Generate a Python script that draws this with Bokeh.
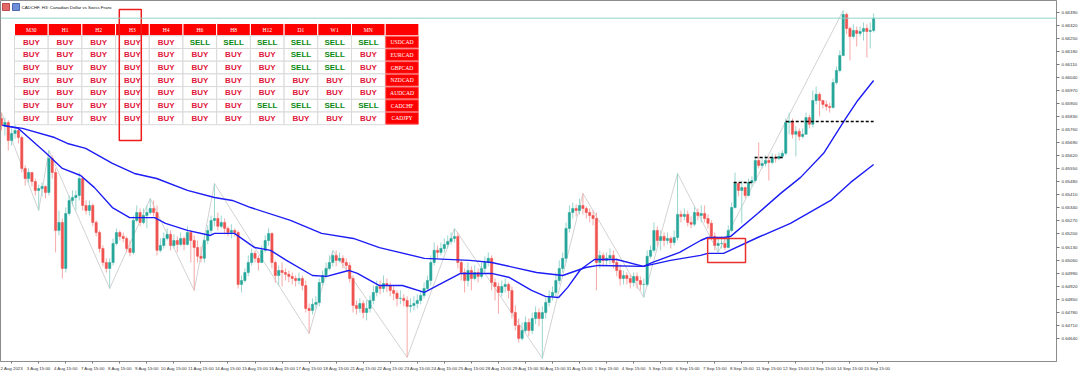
from bokeh.plotting import figure
from bokeh.models import (Range1d, FixedTicker, Span, BoxAnnotation,
                          ColumnDataSource, PrintfTickFormatter)
from bokeh.core.properties import value
from bokeh.embed import file_html
from bokeh.resources import INLINE

# ---------------- data (CADCHF, H3) ----------------
title_text = "CADCHF, H3:  Canadian Dollar vs Swiss Franc"
first_open = 0.65820
closes = [
 0.65783, 0.65799, 0.65702, 0.65740, 0.65756, 0.65718, 0.65552, 0.65498, 0.65530, 0.65482,
 0.65434, 0.65444, 0.65455, 0.65423, 0.65606, 0.65530, 0.65219, 0.65262, 0.65015, 0.65310,
 0.65380, 0.65396, 0.65407, 0.65498, 0.65353, 0.65326, 0.65353, 0.65262, 0.65208, 0.65122,
 0.65047, 0.65015, 0.65047, 0.65149, 0.65208, 0.65187, 0.65176, 0.65122, 0.65101, 0.65273,
 0.65315, 0.65262, 0.65299, 0.65315, 0.65337, 0.65315, 0.65112, 0.65138, 0.65176, 0.65198,
 0.65138, 0.65165, 0.65144, 0.65176, 0.65144, 0.65208, 0.65165, 0.65127, 0.65080, 0.65069,
 0.65165, 0.65219, 0.65273, 0.65283, 0.65241, 0.65262, 0.65230, 0.65208, 0.65219, 0.65208,
 0.64929, 0.64950, 0.64993, 0.65047, 0.65096, 0.65069, 0.65047, 0.65112, 0.65165, 0.65203,
 0.65047, 0.64977, 0.65004, 0.64993, 0.64983, 0.64972, 0.64961, 0.64950, 0.64961, 0.64923,
 0.64800, 0.64789, 0.64822, 0.64832, 0.64939, 0.64977, 0.65015, 0.65047, 0.65085, 0.65058,
 0.65069, 0.65047, 0.65031, 0.64961, 0.64816, 0.64800, 0.64827, 0.64778, 0.64800, 0.64843,
 0.64886, 0.64918, 0.64907, 0.64934, 0.64923, 0.64897, 0.64881, 0.64854, 0.64854, 0.64843,
 0.64811, 0.64816, 0.64827, 0.64843, 0.64870, 0.64907, 0.64950, 0.65047, 0.65112, 0.65101,
 0.65122, 0.65144, 0.65160, 0.65176, 0.65187, 0.65047, 0.64993, 0.64950, 0.65004, 0.64961,
 0.64993, 0.64972, 0.65015, 0.65047, 0.65069, 0.64939, 0.64918, 0.64886, 0.64918, 0.64929,
 0.64897, 0.64778, 0.64709, 0.64639, 0.64682, 0.64725, 0.64682, 0.64746, 0.64778, 0.64746,
 0.64778, 0.64832, 0.64865, 0.64886, 0.64950, 0.65015, 0.65069, 0.65230, 0.65315, 0.65337,
 0.65326, 0.65353, 0.65337, 0.65315, 0.65299, 0.65283, 0.65047, 0.65085, 0.65058, 0.65069,
 0.65085, 0.65047, 0.65004, 0.64961, 0.64977, 0.64961, 0.64939, 0.64972, 0.64950, 0.64929,
 0.64929, 0.65080, 0.65112, 0.65219, 0.65165, 0.65187, 0.65165, 0.65176, 0.65154, 0.65181,
 0.65305, 0.65294, 0.65305, 0.65262, 0.65252, 0.65315, 0.65299, 0.65310, 0.65283, 0.65257,
 0.65187, 0.65138, 0.65149, 0.65149, 0.65127, 0.65219, 0.65342, 0.65471, 0.65434, 0.65449,
 0.65407, 0.65476, 0.65487, 0.65595, 0.65568, 0.65579, 0.65595, 0.65584, 0.65611, 0.65606,
 0.65617, 0.65633, 0.65799, 0.65805, 0.65735, 0.65751, 0.65724, 0.65735, 0.65825, 0.65789,
 0.65917, 0.65950, 0.65917, 0.65896, 0.65885, 0.65879, 0.66013, 0.66078, 0.66159, 0.66379,
 0.66304, 0.66261, 0.66293, 0.66277, 0.66288, 0.66304, 0.66288, 0.66293, 0.66359]
highs = [
 0.65852, 0.65825, 0.65810, 0.65767, 0.65789, 0.65767, 0.65729, 0.65568, 0.65552, 0.65530,
 0.65498, 0.65466, 0.65476, 0.65460, 0.65649, 0.65622, 0.65552, 0.65326, 0.65283, 0.65342,
 0.65407, 0.65434, 0.65434, 0.65530, 0.65514, 0.65380, 0.65380, 0.65364, 0.65273, 0.65219,
 0.65138, 0.65069, 0.65069, 0.65176, 0.65230, 0.65219, 0.65208, 0.65187, 0.65165, 0.65299,
 0.65353, 0.65337, 0.65337, 0.65353, 0.65391, 0.65380, 0.65353, 0.65176, 0.65208, 0.65230,
 0.65219, 0.65198, 0.65187, 0.65208, 0.65187, 0.65241, 0.65219, 0.65192, 0.65165, 0.65133,
 0.65192, 0.65246, 0.65299, 0.65471, 0.65315, 0.65299, 0.65283, 0.65241, 0.65252, 0.65230,
 0.65219, 0.64977, 0.65015, 0.65085, 0.65122, 0.65112, 0.65085, 0.65138, 0.65192, 0.65230,
 0.65208, 0.65058, 0.65031, 0.65047, 0.65015, 0.65004, 0.64993, 0.64977, 0.64993, 0.64977,
 0.64950, 0.64827, 0.64854, 0.64865, 0.64961, 0.65004, 0.65047, 0.65085, 0.65112, 0.65112,
 0.65101, 0.65085, 0.65069, 0.65047, 0.64977, 0.64843, 0.64854, 0.64843, 0.64843, 0.64870,
 0.64923, 0.64950, 0.64950, 0.64977, 0.64961, 0.64939, 0.64918, 0.64897, 0.64897, 0.64876,
 0.64865, 0.64854, 0.64865, 0.64876, 0.64897, 0.64939, 0.64977, 0.65085, 0.65154, 0.65138,
 0.65154, 0.65176, 0.65192, 0.65208, 0.65230, 0.65208, 0.65058, 0.65015, 0.65047, 0.65026,
 0.65031, 0.65015, 0.65047, 0.65080, 0.65101, 0.65085, 0.64961, 0.64939, 0.64950, 0.64961,
 0.64939, 0.64918, 0.64816, 0.64746, 0.64725, 0.64757, 0.64746, 0.64778, 0.64811, 0.64800,
 0.64811, 0.64865, 0.64897, 0.64918, 0.64993, 0.65058, 0.65101, 0.65262, 0.65353, 0.65369,
 0.65359, 0.65391, 0.65418, 0.65348, 0.65337, 0.65326, 0.65315, 0.65112, 0.65101, 0.65101,
 0.65122, 0.65112, 0.65069, 0.65037, 0.65004, 0.64993, 0.64983, 0.64993, 0.64993, 0.64972,
 0.64961, 0.65112, 0.65138, 0.65262, 0.65241, 0.65219, 0.65208, 0.65208, 0.65187, 0.65219,
 0.65525, 0.65326, 0.65337, 0.65326, 0.65294, 0.65348, 0.65337, 0.65353, 0.65353, 0.65305,
 0.65273, 0.65208, 0.65176, 0.65187, 0.65176, 0.65246, 0.65369, 0.65530, 0.65476, 0.65487,
 0.65455, 0.65498, 0.65509, 0.65617, 0.65691, 0.65606, 0.65622, 0.65617, 0.65633, 0.65628,
 0.65638, 0.65649, 0.65820, 0.65852, 0.65820, 0.65778, 0.65767, 0.65767, 0.65852, 0.65841,
 0.65971, 0.65992, 0.65960, 0.65917, 0.65917, 0.65906, 0.66035, 0.66100, 0.66186, 0.66400,
 0.66389, 0.66315, 0.66326, 0.66315, 0.66315, 0.66336, 0.66326, 0.66336, 0.66384]
lows = [
 0.65756, 0.65729, 0.65649, 0.65675, 0.65713, 0.65686, 0.65530, 0.65460, 0.65476, 0.65455,
 0.65407, 0.65326, 0.65402, 0.65391, 0.65407, 0.65498, 0.65101, 0.65192, 0.64961, 0.64993,
 0.65299, 0.65353, 0.65326, 0.65380, 0.65326, 0.65305, 0.65299, 0.65241, 0.65187, 0.65101,
 0.65026, 0.64993, 0.64907, 0.65031, 0.65138, 0.65165, 0.65154, 0.65101, 0.65080, 0.65090,
 0.65262, 0.65241, 0.65252, 0.65230, 0.65305, 0.65294, 0.65085, 0.65101, 0.65122, 0.65165,
 0.65112, 0.65122, 0.65101, 0.65133, 0.65112, 0.65138, 0.65047, 0.64897, 0.65047, 0.65047,
 0.65047, 0.65144, 0.65198, 0.65241, 0.65219, 0.65230, 0.65198, 0.65187, 0.65176, 0.65187,
 0.64907, 0.64886, 0.64939, 0.64972, 0.65031, 0.65047, 0.65004, 0.65047, 0.65101, 0.65138,
 0.65015, 0.64939, 0.64923, 0.64918, 0.64950, 0.64939, 0.64929, 0.64918, 0.64929, 0.64897,
 0.64778, 0.64666, 0.64768, 0.64800, 0.64811, 0.64923, 0.64961, 0.65004, 0.65026, 0.65026,
 0.65047, 0.65015, 0.65004, 0.64939, 0.64778, 0.64768, 0.64778, 0.64746, 0.64736, 0.64778,
 0.64822, 0.64865, 0.64876, 0.64886, 0.64886, 0.64865, 0.64843, 0.64811, 0.64822, 0.64811,
 0.64537, 0.64778, 0.64789, 0.64800, 0.64822, 0.64854, 0.64897, 0.64923, 0.65031, 0.65069,
 0.65085, 0.65101, 0.65122, 0.65144, 0.65154, 0.65015, 0.64950, 0.64886, 0.64918, 0.64897,
 0.64950, 0.64939, 0.64961, 0.64993, 0.65026, 0.64897, 0.64843, 0.64773, 0.64865, 0.64886,
 0.64854, 0.64746, 0.64682, 0.64617, 0.64628, 0.64671, 0.64650, 0.64661, 0.64715, 0.64704,
 0.64532, 0.64746, 0.64811, 0.64843, 0.64865, 0.64929, 0.64993, 0.65047, 0.65208, 0.65283,
 0.65294, 0.65305, 0.65305, 0.65283, 0.65262, 0.65246, 0.64897, 0.65015, 0.65026, 0.65031,
 0.65037, 0.65015, 0.64972, 0.64923, 0.64929, 0.64929, 0.64907, 0.64918, 0.64907, 0.64897,
 0.64859, 0.64918, 0.65069, 0.65101, 0.65133, 0.65112, 0.65133, 0.65144, 0.65122, 0.65138,
 0.65165, 0.65262, 0.65273, 0.65241, 0.65230, 0.65241, 0.65273, 0.65262, 0.65262, 0.65230,
 0.65165, 0.65112, 0.65101, 0.65122, 0.65112, 0.65122, 0.65208, 0.65337, 0.65402, 0.65257,
 0.65391, 0.65402, 0.65455, 0.65476, 0.65552, 0.65552, 0.65563, 0.65487, 0.65574, 0.65584,
 0.65595, 0.65606, 0.65622, 0.65735, 0.65713, 0.65617, 0.65702, 0.65713, 0.65735, 0.65767,
 0.65772, 0.65896, 0.65831, 0.65874, 0.65863, 0.65852, 0.65874, 0.66003, 0.66067, 0.66154,
 0.66272, 0.66132, 0.66250, 0.66207, 0.66261, 0.66239, 0.66148, 0.66196, 0.66282]

# moving averages (read at knots along the drawn lines): bar index, price
ma_fast_bar = [0.3, 5.0, 13.0, 18.0, 23.4, 27.5, 32.8, 37.9, 45.3, 48.5, 55.0, 61.8, 63.0, 68.9,
               74.9, 79.6, 84.3, 92.0, 96.2, 102.7, 105.3, 111.8, 118.6, 125.1, 131.7, 135.8,
               145.0, 150.3, 156.8, 160.9, 164.8, 167.5, 171.3, 175.4, 182.0, 189.9, 192.6,
               200.6, 206.8, 208.9, 213.6, 215.7, 223.7, 230.5, 236.4, 243.2, 249.7, 253.3, 258.0]
ma_fast_val = [0.65783, 0.65767, 0.65638, 0.65552, 0.65514, 0.65449, 0.65342, 0.65288, 0.65288,
               0.65257, 0.65219, 0.65192, 0.65203, 0.65203, 0.65127, 0.65112, 0.65058, 0.64977,
               0.64972, 0.65004, 0.64988, 0.64923, 0.64923, 0.64886, 0.64950, 0.64988, 0.64988,
               0.64966, 0.64897, 0.64865, 0.64859, 0.64913, 0.65009, 0.65063, 0.65063, 0.65026,
               0.65047, 0.65101, 0.65165, 0.65181, 0.65181, 0.65187, 0.65310, 0.65418, 0.65504,
               0.65633, 0.65820, 0.65917, 0.66024]
ma_slow_bar = [0.3, 6.2, 15.7, 19.5, 24.9, 32.8, 39.3, 45.9, 55.0, 63.0, 68.3, 73.7, 85.5, 94.7,
               104.1, 111.8, 125.1, 138.5, 145.0, 158.3, 166.0, 172.8, 176.6, 189.9, 197.9,
               206.8, 208.9, 213.6, 223.7, 233.4, 245.3, 251.2, 258.0]
ma_slow_val = [0.65783, 0.65767, 0.65718, 0.65686, 0.65660, 0.65579, 0.65525, 0.65498, 0.65434,
               0.65396, 0.65380, 0.65342, 0.65273, 0.65203, 0.65176, 0.65127, 0.65069, 0.65058,
               0.65047, 0.64993, 0.64977, 0.65020, 0.65031, 0.65026, 0.65058, 0.65085, 0.65096,
               0.65096, 0.65181, 0.65257, 0.65380, 0.65477, 0.65573]

# zigzag swing points: bar index, price
zz_bar = [0, 11, 14, 32, 44, 57, 63, 91, 98, 120, 134, 160, 172, 190, 200, 212, 249]
zz_price = [0.65852, 0.65326, 0.65649, 0.64907, 0.65391, 0.64897, 0.65471, 0.64666, 0.65112,
            0.64537, 0.65230, 0.64532, 0.65418, 0.64859, 0.65525, 0.65101, 0.66400]

# dashed breakout levels
lvl_start = [216.6, 222.8, 232.0]
lvl_end = [222.2, 231.4, 258.0]
lvl_price = [0.65477, 0.65611, 0.65804]

# highlighted consolidation box
box_bars = [208.9, 220.1]
box_prices = [0.65047, 0.65176]

current_price = 0.66359

price_ticks = [0.66390, 0.66320, 0.66250, 0.66180, 0.66110, 0.66040, 0.65970, 0.65900, 0.65830,
               0.65760, 0.65690, 0.65620, 0.65550, 0.65480, 0.65410, 0.65340, 0.65270, 0.65200,
               0.65130, 0.65060, 0.64990, 0.64920, 0.64850, 0.64780, 0.64710, 0.64640]
day_labels = ["2 Aug 2023", "3 Aug 15:00", "4 Aug 15:00", "7 Aug 15:00", "8 Aug 15:00",
              "9 Aug 15:00", "10 Aug 15:00", "11 Aug 15:00", "14 Aug 15:00", "15 Aug 15:00",
              "16 Aug 15:00", "17 Aug 15:00", "18 Aug 15:00", "21 Aug 15:00", "22 Aug 15:00",
              "23 Aug 15:00", "24 Aug 15:00", "25 Aug 15:00", "28 Aug 15:00", "29 Aug 15:00",
              "30 Aug 15:00", "31 Aug 15:00", "1 Sep 15:00", "4 Sep 15:00", "5 Sep 15:00",
              "6 Sep 15:00", "7 Sep 15:00", "8 Sep 15:00", "11 Sep 15:00", "12 Sep 15:00",
              "13 Sep 15:00", "14 Sep 15:00", "15 Sep 15:00"]
bars_per_day = 8

# signal table
timeframes = ["M30", "H1", "H2", "H3", "H4", "H6", "H8", "H12", "D1", "W1", "MN"]
pairs = ["USDCAD", "EURCAD", "GBPCAD", "NZDCAD", "AUDCAD", "CADCHF", "CADJPY"]
signals = [
    ["BUY", "BUY", "BUY", "BUY", "BUY", "SELL", "SELL", "SELL", "SELL", "SELL", "SELL"],
    ["BUY", "BUY", "BUY", "BUY", "BUY", "BUY", "BUY", "BUY", "SELL", "SELL", "BUY"],
    ["BUY", "BUY", "BUY", "BUY", "BUY", "BUY", "BUY", "BUY", "SELL", "SELL", "BUY"],
    ["BUY", "BUY", "BUY", "BUY", "BUY", "BUY", "BUY", "BUY", "BUY", "BUY", "BUY"],
    ["BUY", "BUY", "BUY", "BUY", "BUY", "BUY", "BUY", "BUY", "BUY", "BUY", "BUY"],
    ["BUY", "BUY", "BUY", "BUY", "BUY", "BUY", "BUY", "SELL", "SELL", "SELL", "SELL"],
    ["BUY", "BUY", "BUY", "BUY", "BUY", "BUY", "BUY", "BUY", "BUY", "BUY", "BUY"],
]

# ---------------- styling constants ----------------
BULL, BEAR = "#26a69a", "#ef5350"
BULL_W, BEAR_W = "#9ad6cf", "#f6a8a7"
MA_COLOR = "#1c1cf5"
FONT = "Liberation Sans"
SERIF = "Liberation Serif"
FRAME_W, FRAME_H = 1056, 361

p = figure(frame_width=FRAME_W, frame_height=FRAME_H,
           x_range=Range1d(-0.3, 312.1), y_range=Range1d(0.64515, 0.66454),
           y_axis_location="right", output_backend="svg", toolbar_location=None,
           min_border=0, background_fill_color="white", border_fill_color="white")
p.extra_x_ranges = {"px": Range1d(0, FRAME_W)}
p.extra_y_ranges = {"py": Range1d(FRAME_H, 0)}
p.grid.visible = False
p.outline_line_color = "#8c8c8c"
p.outline_line_width = 1

# axes
xa = p.xaxis[0]
label_shift = 3
xticks = [k * bars_per_day + label_shift for k in range(len(day_labels))]
xa.ticker = FixedTicker(ticks=xticks)
xa.major_label_overrides = {t: l for t, l in zip(xticks, day_labels)}
xa.major_label_text_font = FONT
xa.major_label_text_font_size = "4.4px"
xa.major_label_text_color = "#333333"
xa.major_label_standoff = 2
xa.major_tick_out = 2
xa.major_tick_in = 0
xa.minor_tick_line_color = None
xa.axis_line_color = "#8c8c8c"
xa.major_tick_line_color = "#777777"

ya = p.yaxis[0]
ya.ticker = FixedTicker(ticks=price_ticks)
ya.formatter = PrintfTickFormatter(format="%.5f")
ya.major_label_text_font = FONT
ya.major_label_text_font_size = "4.4px"
ya.major_label_text_color = "#333333"
ya.major_label_standoff = 2
ya.major_tick_out = 3
ya.major_tick_in = 0
ya.minor_tick_line_color = None
ya.axis_line_color = "#8c8c8c"
ya.major_tick_line_color = "#777777"

# zigzag
p.line(zz_bar, zz_price, line_color="#d2d2d2", line_width=1)

# candles
n = min(len(closes), len(highs), len(lows))
opens = [first_open] + closes[:n - 1]
cols = {True: dict(x=[], top=[], bottom=[], hi=[], lo=[]),
        False: dict(x=[], top=[], bottom=[], hi=[], lo=[])}
for i in range(n):
    o, c = opens[i], closes[i]
    d = cols[c >= o]
    d["x"].append(i)
    d["top"].append(max(o, c))
    d["bottom"].append(min(o, c))
    d["hi"].append(highs[i])
    d["lo"].append(lows[i])
for up, body, wick in ((True, BULL, BULL_W), (False, BEAR, BEAR_W)):
    src = ColumnDataSource(cols[up])
    p.segment(x0="x", y0="lo", x1="x", y1="hi", source=src, line_color=wick, line_width=1)
    p.vbar(x="x", width=0.68, top="top", bottom="bottom", source=src,
           fill_color=body, line_color=body, line_width=0.5)

# moving averages
p.line(ma_slow_bar, ma_slow_val, line_color=MA_COLOR, line_width=1.4)
p.line(ma_fast_bar, ma_fast_val, line_color=MA_COLOR, line_width=1.4)

# current price line
p.add_layout(Span(location=current_price, dimension="width", line_color="#8fd4ca", line_width=1))

# dashed levels
p.segment(x0=lvl_start, y0=lvl_price, x1=lvl_end, y1=lvl_price,
          line_color="black", line_width=1.5, line_dash="3 2")

# red box around consolidation
p.add_layout(BoxAnnotation(left=box_bars[0], right=box_bars[1], bottom=box_prices[0],
                           top=box_prices[1], fill_alpha=0, line_color="#e8302c",
                           line_alpha=1.0, line_width=1.5))

# ---------------- signal table (pixel overlay) ----------------
T_LEFT, COL_W = 14.0, 33.7
HEAD_TOP, HEAD_H = 23.0, 12.3
ROW_H = 12.7
ncol = len(timeframes) + 1

hx = [T_LEFT + COL_W * (j + 0.5) for j in range(ncol)]
hy = [HEAD_TOP + HEAD_H / 2] * ncol
p.rect(x=hx, y=hy, width=COL_W, height=HEAD_H, x_range_name="px", y_range_name="py",
       fill_color="#ff0000", line_color="#ffffff", line_width=1)
p.text(x=hx[:-1], y=hy[:-1], text=timeframes, x_range_name="px", y_range_name="py",
       text_align="center", text_baseline="middle", text_font=value(SERIF),
       text_font_size="5.6px", text_color="#ffffff")

cx, cy, ct, cc = [], [], [], []
px_, py_ = [], []
for r, row in enumerate(signals):
    yc = HEAD_TOP + HEAD_H + ROW_H * (r + 0.5)
    for j, s in enumerate(row):
        cx.append(T_LEFT + COL_W * (j + 0.5))
        cy.append(yc)
        ct.append(s)
        cc.append("#e0173d" if s == "BUY" else "#0a8a12")
    px_.append(T_LEFT + COL_W * (len(row) + 0.5))
    py_.append(yc)
p.rect(x=cx, y=cy, width=COL_W, height=ROW_H, x_range_name="px", y_range_name="py",
       fill_color="#ffffff", line_color="#d9d9d9", line_width=1)
p.rect(x=px_, y=py_, width=COL_W - 1, height=ROW_H - 1, x_range_name="px", y_range_name="py",
       fill_color="#ff0000", line_color="#ff6060", line_width=1)
csrc = ColumnDataSource(dict(x=cx, y=cy, t=ct, c=cc))
p.text(x="x", y="y", text="t", source=csrc, x_range_name="px", y_range_name="py",
       text_align="center", text_baseline="middle", text_font=value(FONT),
       text_font_style="bold", text_font_size="8px", text_color="c")
p.text(x=px_, y=py_, text=pairs, x_range_name="px", y_range_name="py",
       text_align="center", text_baseline="middle", text_font=value(SERIF),
       text_font_size="5.6px", text_color="#ffffff")

# highlight around H3 column
h3 = timeframes.index("H3")
p.quad(left=[T_LEFT + COL_W * h3 + 3.7], right=[T_LEFT + COL_W * (h3 + 1) - 8],
       top=[9], bottom=[140], x_range_name="px", y_range_name="py",
       fill_alpha=0, line_color="#ee1c1c", line_width=1.5)

# title icons and title
p.quad(left=[2, 12], right=[9, 19], top=[3, 3], bottom=[10, 10], x_range_name="px",
       y_range_name="py", fill_color=["#e46a6a", "#6f8fd8"], line_color=["#b03030", "#3050a0"],
       line_width=0.8)
p.text(x=[21], y=[4], text=[title_text], x_range_name="px", y_range_name="py",
       text_align="left", text_baseline="top", text_font=value(FONT),
       text_font_size="4.4px", text_color="#111111")

open("out.html", "w").write(file_html(p, INLINE))
